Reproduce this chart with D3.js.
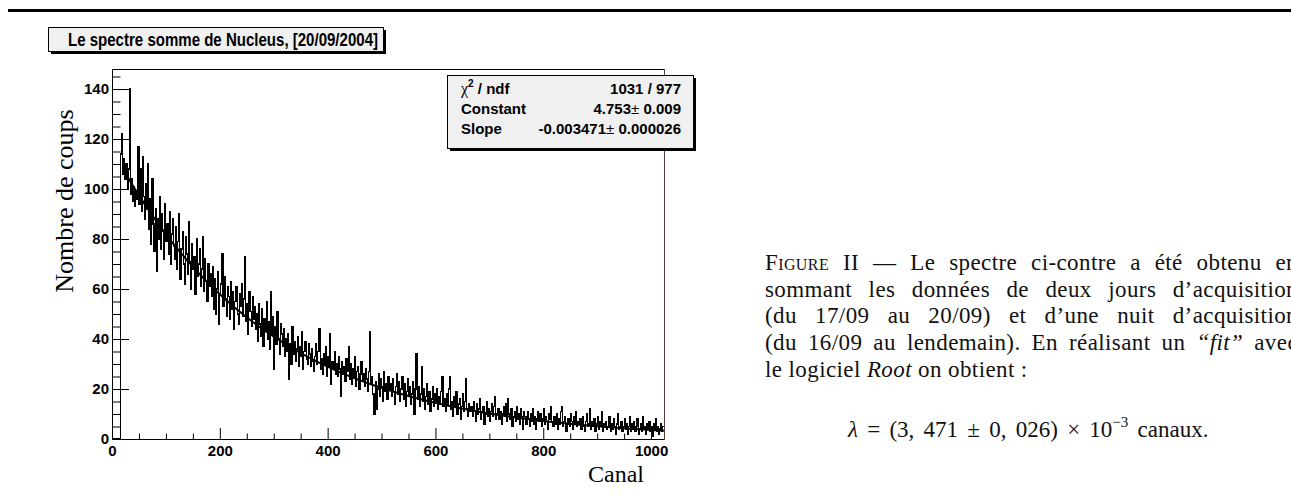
<!DOCTYPE html>
<html>
<head>
<meta charset="utf-8">
<script src="https://cdnjs.cloudflare.com/ajax/libs/d3/7.8.5/d3.min.js"></script>
<style>
  body { margin: 0; background: #fff; }
  svg { display: block; }
</style>
</head>
<body>
<svg id="chart" width="1291" height="494"></svg>
<script>
// histogram: bins of 2 channels starting at channel 16
var FIRST_CHANNEL = 16;
var BIN_WIDTH = 2;
var COUNTS = [
  114, 122, 106, 112, 104, 110, 100, 108, 140, 98, 104, 95, 101, 93, 99, 96, 117, 94, 108, 91, 113, 97, 88, 102, 92,
  110, 84, 96, 78, 104, 86, 75, 92, 67, 88, 80, 97, 76, 90, 83, 72, 94, 79, 86, 74, 91, 70, 82, 88, 77,
  72, 85, 68, 79, 90, 64, 76, 83, 70, 62, 81, 74, 66, 87, 71, 60, 78, 68, 73, 58, 80, 65, 70, 76, 61,
  68, 81, 59, 72, 63, 55, 70, 61, 66, 57, 69, 52, 64, 50, 60, 67, 46, 58, 62, 74, 53, 65, 56, 49, 61,
  57, 48, 63, 52, 59, 44, 55, 61, 50, 46, 58, 53, 62, 49, 56, 73, 47, 54, 42, 59, 51, 45, 57, 48, 53,
  44, 50, 39, 54, 46, 41, 52, 37, 48, 43, 55, 40, 47, 36, 59, 42, 49, 28, 45, 38, 51, 40, 34, 46, 42,
  37, 44, 33, 40, 35, 42, 24, 38, 30, 45, 34, 39, 31, 36, 41, 29, 37, 33, 43, 28, 35, 39, 32, 30, 38,
  34, 29, 36, 31, 27, 33, 38, 30, 35, 44, 28, 32, 26, 34, 30, 37, 25, 33, 29, 42, 22, 31, 28, 35, 26,
  30, 25, 33, 28, 17, 31, 26, 29, 23, 32, 27, 37, 24, 30, 22, 28, 25, 33, 21, 27, 29, 20, 26, 31, 23,
  26, 21, 28, 24, 19, 27, 43, 22, 25, 18, 10, 23, 12, 20, 26, 17, 24, 21, 15, 27, 19, 22, 16, 25, 20,
  22, 17, 24, 19, 14, 21, 26, 18, 23, 15, 20, 25, 16, 22, 13, 19, 24, 17, 21, 14, 18, 23, 10, 20, 34,
  16, 21, 13, 18, 29, 15, 20, 12, 17, 22, 14, 19, 11, 16, 21, 13, 18, 15, 20, 12, 17, 14, 19, 25, 13,
  16, 11, 18, 14, 20, 25, 12, 15, 9, 17, 13, 19, 10, 14, 16, 8, 13, 18, 11, 15, 24, 12, 9, 14, 11,
  13, 9, 15, 11, 7, 14, 10, 12, 16, 8, 11, 13, 6, 10, 15, 9, 12, 7, 11, 14, 9, 13, 17, 8, 10,
  12, 8, 11, 6, 10, 13, 9, 14, 7, 16, 10, 8, 12, 5, 9, 11, 7, 13, 8, 10, 6, 12, 9, 4, 11,
  9, 6, 11, 8, 5, 10, 7, 12, 6, 9, 4, 8, 11, 7, 10, 5, 8, 12, 6, 9, 7, 4, 10, 8, 13,
  7, 5, 9, 6, 10, 4, 8, 6, 11, 13, 5, 7, 9, 3, 6, 8, 5, 10, 7, 4, 9, 6, 11, 5, 7,
  6, 8, 4, 9, 5, 3, 7, 10, 5, 6, 12, 4, 7, 5, 8, 3, 6, 9, 4, 7, 5, 11, 3, 6, 5,
  7, 4, 5, 9, 3, 6, 4, 8, 5, 2, 6, 10, 4, 5, 7, 3, 5, 8, 4, 6, 2, 5, 9, 3, 6,
  4, 7, 3, 5, 8, 2, 4, 6, 3, 9, 4, 5, 2, 6, 4, 7, 3, 5, 1, 6, 4, 8, 3, 5, 2,
  4, 6, 3, 5
];

var X_DOMAIN = [0, 1024];
var Y_DOMAIN = [0, 148];
var X_TICKS = [0, 200, 400, 600, 800, 1000];
var Y_TICKS = [0, 20, 40, 60, 80, 100, 120, 140];

// expo fit: exp(Constant + Slope * x)
var FIT_CONSTANT = 4.753;
var FIT_SLOPE = -0.003471;
var FIT_RANGE = [20, 1024];

var TITLE = "Le spectre somme de Nucleus, [20/09/2004]";
var STAT_NAMES = ["ndf", "Constant", "Slope"];
var STAT_VALUES = ["1031 / 977", "4.753", "-0.003471"];
var STAT_ERRORS = [null, "0.009", "0.000026"];

var Y_TITLE = "Nombre de coups";
var X_TITLE = "Canal";

// caption lines, segments are [text, style]
var CAPTION = [
  [["Figure II", "sc"], [" — Le spectre ci-contre a été obtenu en", ""]],
  [["sommant les données de deux jours d’acquisition", ""]],
  [["(du 17/09 au 20/09) et d’une nuit d’acquisition", ""]],
  [["(du 16/09 au lendemain). En réalisant un ", ""], ["“fit”", "it"], [" avec", ""]],
  [["le logiciel ", ""], ["Root", "it"], [" on obtient :", ""]]
];

var svg = d3.select("#chart");
var SANS = "'Liberation Sans', Arial, Helvetica, sans-serif";
var SERIF = "'Liberation Serif', 'Times New Roman', serif";

var plot = { left: 112, right: 664, top: 69, bottom: 439 };
var x = d3.scaleLinear().domain(X_DOMAIN).range([plot.left, plot.right]);
var y = d3.scaleLinear().domain(Y_DOMAIN).range([plot.bottom, plot.top]);

// rule at the top of the page
svg.append("line")
  .attr("x1", 8).attr("x2", 1291).attr("y1", 10.5).attr("y2", 10.5)
  .attr("stroke", "#000").attr("stroke-width", 3);

// title box with shadow
svg.append("rect").attr("x", 51).attr("y", 30).attr("width", 335).attr("height", 24).attr("fill", "#000");
svg.append("rect").attr("x", 48.5).attr("y", 27.5).attr("width", 335).attr("height", 24)
  .attr("fill", "#f0f0f0").attr("stroke", "#000").attr("stroke-width", 1);
svg.append("text")
  .attr("x", 223).attr("y", 46)
  .attr("text-anchor", "middle")
  .attr("font-family", SANS).attr("font-weight", "bold").attr("font-size", 17.5)
  .attr("textLength", 310).attr("lengthAdjust", "spacingAndGlyphs")
  .text(TITLE);

// frame
svg.append("line")
  .attr("x1", plot.left).attr("x2", plot.right).attr("y1", plot.top + 0.5).attr("y2", plot.top + 0.5)
  .attr("stroke", "#000");
svg.append("line")
  .attr("x1", plot.right + 0.5).attr("x2", plot.right + 0.5).attr("y1", plot.top).attr("y2", plot.bottom)
  .attr("stroke", "#5a3c3c");

// histogram as a step line
var pts = [[0, 0]];
COUNTS.forEach(function(v, i) { pts.push([FIRST_CHANNEL + i * BIN_WIDTH, v]); });
pts.push([FIRST_CHANNEL + COUNTS.length * BIN_WIDTH, COUNTS[COUNTS.length - 1]]);
var histLine = d3.line()
  .x(function(d) { return x(d[0]); })
  .y(function(d) { return y(d[1]); })
  .curve(d3.curveStepAfter);
svg.append("path")
  .attr("d", histLine(pts))
  .attr("fill", "none").attr("stroke", "#000").attr("stroke-width", 1.1)
  .attr("shape-rendering", "crispEdges");

// fit curve
var fitPts = d3.range(FIT_RANGE[0], FIT_RANGE[1] + 1, 4).map(function(c) {
  return [c, Math.exp(FIT_CONSTANT + FIT_SLOPE * c)];
});
svg.append("path")
  .attr("d", d3.line().x(function(d) { return x(d[0]); }).y(function(d) { return y(d[1]); })(fitPts))
  .attr("fill", "none").attr("stroke", "#000").attr("stroke-width", 2);

// axes
function styleAxis(g) {
  g.selectAll("path.domain").attr("stroke", "#000");
  g.selectAll("line").attr("stroke", "#000");
  g.selectAll("text").attr("font-family", SANS).attr("font-weight", "bold").attr("font-size", 15).attr("fill", "#000");
}

var xMinor = d3.range(0, 1001, 50).filter(function(v) { return v % 200 !== 0; });
svg.append("g").attr("transform", "translate(0," + plot.bottom + ")")
  .call(d3.axisBottom(x).tickValues(xMinor).tickSize(-5.5).tickSizeOuter(0).tickFormat(""))
  .call(styleAxis);
svg.append("g").attr("transform", "translate(0," + plot.bottom + ")")
  .call(d3.axisBottom(x).tickValues(X_TICKS).tickSize(-11).tickSizeOuter(0).tickPadding(6).tickFormat(d3.format("d")))
  .call(styleAxis);

var yMinor = d3.range(0, 146, 5).filter(function(v) { return v % 20 !== 0; });
svg.append("g").attr("transform", "translate(" + plot.left + ",0)")
  .call(d3.axisLeft(y).tickValues(yMinor).tickSize(-8.5).tickSizeOuter(0).tickFormat(""))
  .call(styleAxis);
svg.append("g").attr("transform", "translate(" + plot.left + ",0)")
  .call(d3.axisLeft(y).tickValues(Y_TICKS).tickSize(-17).tickSizeOuter(0).tickPadding(3).tickFormat(d3.format("d")))
  .call(styleAxis);

// axis titles
svg.append("text")
  .attr("transform", "translate(73,201) rotate(-90)")
  .attr("text-anchor", "middle")
  .attr("font-family", SERIF).attr("font-size", 26)
  .text(Y_TITLE);
svg.append("text")
  .attr("x", 644).attr("y", 482)
  .attr("text-anchor", "end")
  .attr("font-family", SERIF).attr("font-size", 24)
  .text(X_TITLE);

// stats box
var box = { x: 447, y: 75, w: 246, h: 73 };
svg.append("rect").attr("x", box.x + 3).attr("y", box.y + 3).attr("width", box.w).attr("height", box.h).attr("fill", "#000");
svg.append("rect").attr("x", box.x + 0.5).attr("y", box.y + 0.5).attr("width", box.w).attr("height", box.h)
  .attr("fill", "#f0f0f0").attr("stroke", "#000");
STAT_NAMES.forEach(function(name, i) {
  var by = box.y + 19 + i * 20;
  var t = svg.append("text").attr("x", box.x + 14).attr("y", by)
    .attr("font-family", SANS).attr("font-weight", "bold").attr("font-size", 15);
  if (i === 0) {
    t.append("tspan").attr("font-weight", "normal").attr("font-family", SERIF).attr("font-size", 16).text("χ");
    t.append("tspan").attr("font-size", 10).attr("dy", -7).text("2");
    t.append("tspan").attr("dy", 7).text(" / " + name);
  } else {
    t.text(name);
  }
  var v = svg.append("text").attr("x", box.x + box.w - 12).attr("y", by)
    .attr("text-anchor", "end")
    .attr("font-family", SANS).attr("font-weight", "bold").attr("font-size", 15);
  v.append("tspan").text(STAT_VALUES[i]);
  if (STAT_ERRORS[i]) {
    v.append("tspan").attr("font-weight", "normal").text("±");
    v.append("tspan").text(" " + STAT_ERRORS[i]);
  }
});

// caption on the right, justified lines
var capX = 765;
var capRight = 1298;
var capBase = [270, 297, 323, 350, 377];
CAPTION.forEach(function(segs, li) {
  var t = svg.append("text")
    .attr("x", capX).attr("y", capBase[li])
    .attr("font-family", SERIF).attr("font-size", 23).attr("fill", "#111")
    .attr("letter-spacing", 0.4);
  segs.forEach(function(s) {
    var ts = t.append("tspan").text(s[0]);
    if (s[1] === "it") ts.attr("font-style", "italic");
    if (s[1] === "sc") ts.style("font-variant", "small-caps");
  });
  if (li < CAPTION.length - 1) {
    var full = segs.map(function(s) { return s[0]; }).join("");
    var spaces = full.split(" ").length - 1;
    var natural = t.node().getComputedTextLength();
    var extra = Math.max(0, (capRight - capX - natural) / spaces);
    t.attr("word-spacing", extra);
  }
});

// formula
var f = svg.append("text")
  .attr("x", 848).attr("y", 437)
  .attr("font-family", SERIF).attr("font-size", 23).attr("fill", "#111")
  .attr("word-spacing", 3.5);
f.append("tspan").attr("font-style", "italic").text("λ");
f.append("tspan").text(" = (3, 471 ± 0, 026) × 10");
f.append("tspan").attr("font-size", 15).attr("dy", -10).text("−3");
f.append("tspan").attr("dy", 10).text(" canaux.");
</script>
</body>
</html>
